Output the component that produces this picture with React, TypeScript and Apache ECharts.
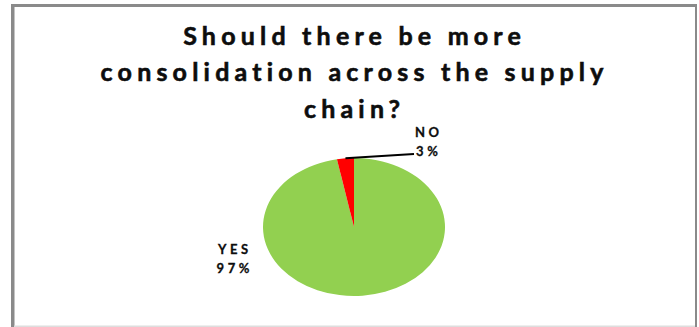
import React, { useEffect, useRef } from 'react';
import * as echarts from 'echarts';

// ---- data ----
const categories = ['YES', 'NO'];
const values = [97, 3];
const sliceColors = ['#92D050', '#FF0000'];
const titleLines = ['Should there be more', 'consolidation across the supply', 'chain?'];

// ---- layout ----
const W = 699;
const H = 327;
const PIE = { cx: 354, cy: 227, rx: 91, ry: 69 };
const TITLE_LS = 5.2;
const LABEL_LS = 3.6;
const FONT = 'Lato, "Open Sans", sans-serif';
const labelLayout = [
  { dx: -121, dy: 31, leader: false },
  { dx: 73, dy: -86, leader: true, endDx: -13, endDy: 13 },
];

export default function App() {
  const ref = useRef<HTMLDivElement>(null);

  useEffect(() => {
    document.body.style.margin = '0';
    const el = ref.current!;
    const chart = echarts.init(el, null, { renderer: 'svg', width: W, height: H });
    const total = values.reduce((a, b) => a + b, 0);
    const starts: number[] = [];
    let acc = 0;
    values.forEach((v) => {
      starts.push(acc);
      acc += v;
    });

    const frameColor = '#8a8a8a';
    const option: any = {
      animation: false,
      backgroundColor: '#ffffff',
      graphic: [
        { type: 'rect', silent: true, shape: { x: 11, y: 4, width: 686, height: 3 }, style: { fill: frameColor } },
        { type: 'rect', silent: true, shape: { x: 11, y: 4, width: 3.5, height: 323 }, style: { fill: frameColor } },
        { type: 'rect', silent: true, shape: { x: 695, y: 4, width: 2, height: 323 }, style: { fill: frameColor } },
        { type: 'rect', silent: true, shape: { x: 14, y: 325.5, width: 681, height: 1.5 }, style: { fill: '#dedede' } },
        {
          type: 'text',
          silent: true,
          x: 352 + TITLE_LS / 2,
          y: 71,
          style: {
            text: titleLines.join('\n'),
            font: `bold 25px ${FONT}`,
            fill: '#0d0d0d',
            stroke: '#0d0d0d',
            lineWidth: 0.6,
            textAlign: 'center',
            textVerticalAlign: 'middle',
            lineHeight: 36.5,
          },
        },
      ],
      series: [
        {
          type: 'custom',
          coordinateSystem: 'none',
          data: categories.map((name, i) => ({ name, value: values[i] })),
          renderItem: (params: any, api: any) => {
            const i = params.dataIndex;
            const v = api.value(0) as number;
            const a0 = -Math.PI / 2 + (starts[i] / total) * 2 * Math.PI;
            const a1 = a0 + (v / total) * 2 * Math.PI;
            const mid = (a0 + a1) / 2;
            const lay = labelLayout[i];
            const lx = PIE.cx + lay.dx;
            const ly = PIE.cy + lay.dy;
            const children: any[] = [
              {
                type: 'sector',
                x: PIE.cx,
                y: PIE.cy,
                scaleY: PIE.ry / PIE.rx,
                shape: { cx: 0, cy: 0, r: PIE.rx, r0: 0, startAngle: a0, endAngle: a1, clockwise: true },
                style: { fill: sliceColors[i] },
              },
            ];
            if (lay.leader) {
              children.push({
                type: 'line',
                shape: {
                  x1: PIE.cx + PIE.rx * Math.cos(mid),
                  y1: PIE.cy + PIE.ry * Math.sin(mid),
                  x2: lx + (lay as any).endDx,
                  y2: ly + (lay as any).endDy,
                },
                style: { stroke: '#000', lineWidth: 2 },
              });
            }
            children.push({
              type: 'text',
              x: lx + LABEL_LS / 2,
              y: ly,
              style: {
                text: `${categories[i]}\n${v}%`,
                font: `bold 13px ${FONT}`,
                fill: '#0d0d0d',
                stroke: '#0d0d0d',
                lineWidth: 0.3,
                textAlign: 'center',
                textVerticalAlign: 'middle',
                lineHeight: 19,
              },
            });
            return { type: 'group', children };
          },
        },
      ],
    };

    const applySpacing = () => {
      el.querySelectorAll('text').forEach((t) => {
        const fs = parseFloat(getComputedStyle(t).fontSize || '12');
        t.setAttribute('letter-spacing', String(fs > 18 ? TITLE_LS : LABEL_LS));
      });
    };
    chart.on('finished', applySpacing);
    chart.setOption(option);
    applySpacing();
    const t = setTimeout(applySpacing, 50);

    return () => {
      clearTimeout(t);
      chart.dispose();
    };
  }, []);

  return <div ref={ref} style={{ position: 'fixed', left: 0, top: 0, width: W, height: H }} />;
}
